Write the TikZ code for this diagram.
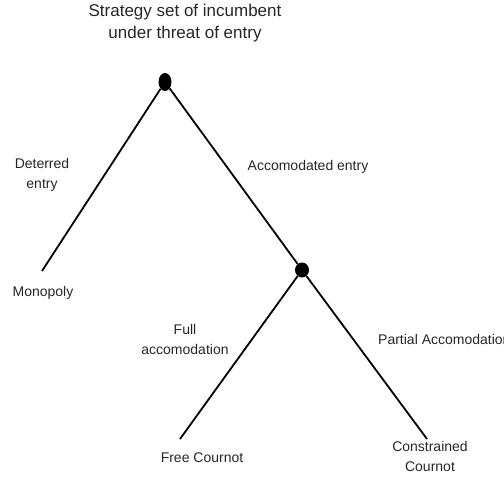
\documentclass[tikz,border=0pt]{standalone}
\usepackage{fontspec}
\setmainfont{Liberation Sans}
\usetikzlibrary{shapes.geometric}
\tikzset{
    dot/.style={ellipse,fill=black,inner sep=0pt},
    lbl/.style={align=center,inner sep=0pt,font=\fontsize{14}{20}\selectfont,text=black!85},
    branch/.style={line width=1.8pt}
}
\begin{document}
\begin{tikzpicture}[x=1pt,y=-1pt]
    \useasboundingbox (0,0) rectangle (504,480);

    % decision nodes
    \node [dot,minimum width=13pt,minimum height=18pt] (root) at (165,82) {};
    \node [dot,minimum width=14pt,minimum height=15pt] (acc) at (302,270) {};
    \coordinate (mono) at (42,271);
    \coordinate (free) at (180,439);
    \coordinate (cons) at (427,439);

    % branches
    \draw [branch] (root) -- (mono) (root) -- (acc)
        (acc) -- (free) (acc) -- (cons);

    % texts
    \node [lbl,font=\fontsize{17}{22}\selectfont] (title) at (185,23)
        {Strategy set of incumbent\\under threat of entry};
    \node [lbl] (deter) at (42,175) {Deterred\\entry};
    \node [lbl] (accent) at (308,167) {Accomodated entry};
    \node [lbl] (monolbl) at (43,293) {Monopoly};
    \node [lbl] (full) at (185,339) {Full\\accomodation};
    \node [lbl,anchor=west] (partial) at (378,339) {Partial Accomodation};
    \node [lbl] (freelbl) at (202,458) {Free Cournot};
    \node [lbl] (conslbl) at (430,456) {Constrained\\Cournot};
\end{tikzpicture}
\end{document}
